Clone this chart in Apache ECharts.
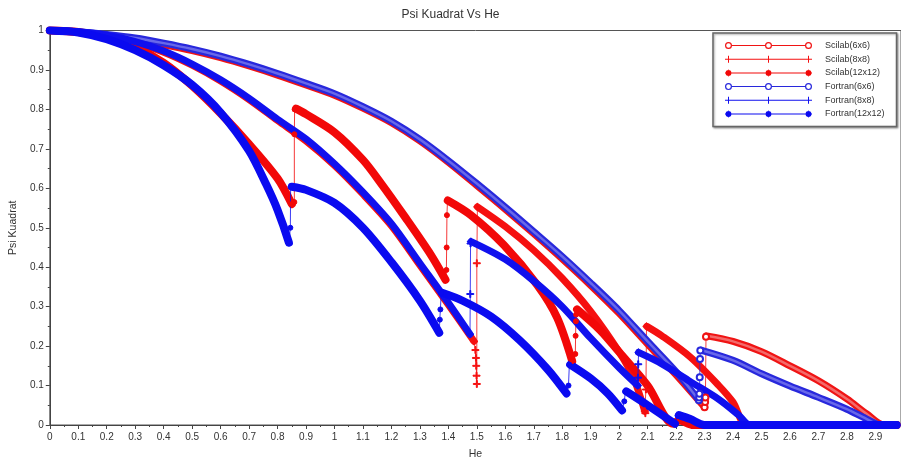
<!DOCTYPE html>
<html>
<head>
<meta charset="utf-8">
<script src="https://cdn.jsdelivr.net/npm/echarts@6/dist/echarts.min.js"></script>
<style>
html,body{margin:0;padding:0;background:#fff;}
#chart{width:901px;height:465px;}
</style>
</head>
<body>
<div id="chart"></div>
<script>
// ---------------- DATA ----------------
const xTicks = [0,0.1,0.2,0.3,0.4,0.5,0.6,0.7,0.8,0.9,1,1.1,1.2,1.3,1.4,1.5,1.6,1.7,1.8,1.9,2,2.1,2.2,2.3,2.4,2.5,2.6,2.7,2.8,2.9];
const yTicks = [0,0.1,0.2,0.3,0.4,0.5,0.6,0.7,0.8,0.9,1];
const seriesNames = ['Scilab(6x6)','Scilab(8x8)','Scilab(12x12)','Fortran(6x6)','Fortran(8x8)','Fortran(12x12)'];

// Scilab 6x6
const S6_b1 = [[0,1],[0.1,0.995],[0.2,0.987],[0.3,0.977],[0.4,0.964],[0.5,0.949],[0.6,0.931],[0.7,0.91],[0.8,0.887],[0.9,0.862],[1.0,0.836],[1.1,0.803],[1.2,0.766],[1.3,0.72],[1.4,0.666],[1.5,0.607],[1.6,0.547],[1.7,0.485],[1.8,0.421],[1.9,0.354],[2.0,0.283],[2.1,0.205],[2.2,0.127],[2.3,0.045]];
const S6_j1 = [[2.3,0.045],[2.302,0.058],[2.303,0.07],[2.305,0.224]];
const S6_b2 = [[2.307,0.226],[2.4,0.212],[2.5,0.186],[2.6,0.15],[2.7,0.112],[2.8,0.066],[2.87,0.028],[2.93,0],[2.975,0]];

// Scilab 8x8
const S8_b1 = [[0,1],[0.1,0.996],[0.2,0.986],[0.3,0.969],[0.4,0.945],[0.5,0.912],[0.6,0.872],[0.7,0.825],[0.8,0.772],[0.9,0.72],[1.0,0.658],[1.1,0.585],[1.2,0.505],[1.3,0.405],[1.4,0.305],[1.49,0.212]];
const S8_j1 = [[1.49,0.212],[1.495,0.19],[1.497,0.17],[1.498,0.15],[1.499,0.125],[1.5,0.104],[1.5,0.41],[1.502,0.553]];
const S8_b2 = [[1.502,0.553],[1.6,0.503],[1.7,0.443],[1.8,0.372],[1.9,0.288],[2.0,0.185],[2.05,0.12],[2.09,0.035]];
const S8_j2 = [[2.09,0.035],[2.092,0.03],[2.094,0.09],[2.096,0.25]];
const S8_b3 = [[2.097,0.25],[2.15,0.226],[2.25,0.172],[2.35,0.1],[2.4,0.058],[2.45,0],[2.975,0]];

// Scilab 12x12
const S12_b1 = [[0,1],[0.1,0.996],[0.2,0.982],[0.3,0.958],[0.4,0.918],[0.5,0.86],[0.6,0.79],[0.7,0.712],[0.8,0.625],[0.85,0.56]];
const S12_j1 = [[0.85,0.56],[0.859,0.565],[0.859,0.737],[0.86,0.8]];
const S12_b2 = [[0.865,0.802],[0.9,0.788],[1.0,0.742],[1.1,0.672],[1.164,0.612],[1.25,0.525],[1.338,0.432],[1.39,0.368]];
const S12_j2 = [[1.39,0.368],[1.393,0.393],[1.394,0.45],[1.395,0.532],[1.397,0.569]];
const S12_b3 = [[1.398,0.569],[1.479,0.532],[1.595,0.456],[1.712,0.355],[1.782,0.272],[1.835,0.162]];
const S12_j3 = [[1.835,0.162],[1.846,0.18],[1.847,0.226],[1.848,0.263],[1.849,0.28],[1.85,0.293]];
const S12_b4 = [[1.852,0.293],[1.934,0.24],[2.0,0.185],[2.1,0.1],[2.19,0.003],[2.21,0.012],[2.26,0],[2.975,0]];

// Fortran 6x6
const F6_b1 = [[0,1],[0.1,0.997],[0.2,0.99],[0.3,0.981],[0.4,0.968],[0.5,0.953],[0.6,0.935],[0.7,0.914],[0.8,0.891],[0.9,0.866],[1.0,0.84],[1.1,0.807],[1.2,0.77],[1.3,0.724],[1.4,0.67],[1.5,0.612],[1.6,0.552],[1.7,0.49],[1.8,0.427],[1.9,0.36],[2.0,0.29],[2.1,0.212],[2.2,0.135],[2.28,0.063]];
const F6_j1 = [[2.28,0.063],[2.281,0.07],[2.282,0.079],[2.283,0.121],[2.284,0.167],[2.285,0.189]];
const F6_b2 = [[2.287,0.19],[2.4,0.164],[2.5,0.13],[2.6,0.099],[2.7,0.07],[2.8,0.04],[2.87,0.015],[2.92,0],[2.975,0]];

// Fortran 8x8
const F8_b1 = [[0,1],[0.1,0.997],[0.2,0.988],[0.3,0.972],[0.4,0.948],[0.5,0.915],[0.6,0.875],[0.7,0.828],[0.8,0.775],[0.9,0.725],[1.0,0.662],[1.1,0.59],[1.2,0.51],[1.3,0.41],[1.4,0.31],[1.476,0.23]];
const F8_j1 = [[1.476,0.23],[1.477,0.332],[1.478,0.46],[1.479,0.465]];
const F8_b2 = [[1.48,0.465],[1.6,0.42],[1.7,0.365],[1.8,0.3],[1.9,0.22],[2.0,0.145],[2.065,0.1]];
const F8_j2 = [[2.065,0.1],[2.066,0.12],[2.067,0.154],[2.068,0.184]];
const F8_b3 = [[2.068,0.184],[2.15,0.155],[2.25,0.11],[2.35,0.065],[2.42,0.025],[2.46,0],[2.975,0]];

// Fortran 12x12
const F12_b1 = [[0,1],[0.1,0.995],[0.2,0.978],[0.3,0.95],[0.4,0.912],[0.5,0.862],[0.6,0.792],[0.7,0.695],[0.76,0.61],[0.8,0.545],[0.84,0.462]];
const F12_j1 = [[0.84,0.462],[0.845,0.5],[0.846,0.604]];
const F12_b2 = [[0.85,0.604],[0.9,0.596],[1.0,0.563],[1.1,0.5],[1.2,0.413],[1.3,0.315],[1.368,0.234]];
const F12_j2 = [[1.368,0.234],[1.37,0.267],[1.372,0.293],[1.375,0.335]];
const F12_b3 = [[1.378,0.335],[1.45,0.315],[1.55,0.275],[1.65,0.215],[1.75,0.14],[1.815,0.08]];
const F12_j3 = [[1.815,0.08],[1.822,0.1],[1.825,0.153]];
const F12_b4 = [[1.828,0.153],[1.9,0.118],[1.96,0.08],[2.01,0.037]];
const F12_j4 = [[2.01,0.037],[2.018,0.06],[2.022,0.085]];
const F12_b5 = [[2.025,0.085],[2.1,0.05],[2.196,0.003]];
const F12_j5 = [[2.196,0.003],[2.205,0.024]];
const F12_b6 = [[2.21,0.025],[2.25,0.015],[2.3,0],[2.975,0]];

// ---------------- CHART ----------------
const FONT = 'Liberation Sans, Arial, sans-serif';
const PLUS = 'path://M4.3,0H5.7V4.3H10V5.7H5.7V10H4.3V5.7H0V4.3H4.3Z';

// legend icons: a line with three markers, drawn in an 87 x 7 box
const LW = 87, LH = 7, LC = [3.5, 43.5, 83.5];
function circ(cx, r, sweep){
  const y = LH/2;
  return `M${cx-r},${y}A${r},${r} 0 1,${sweep} ${cx+r},${y}A${r},${r} 0 1,${sweep} ${cx-r},${y}Z`;
}
function ringIcon(){
  let p = '';
  LC.forEach(c=>{ p += circ(c,3.5,1) + circ(c,2.3,0); });
  p += `M7,3H40V4H7ZM47,3H80V4H47Z`;
  return 'path://' + p;
}
function plusIcon(){
  let p = `M0,3H${LW}V4H0Z`;
  LC.forEach(c=>{ p += `M${c-0.5},0H${c+0.5}V${LH}H${c-0.5}Z`; });
  return 'path://' + p;
}
function dotIcon(){
  let p = `M0,3H${LW}V4H0Z`;
  LC.forEach(c=>{ p += circ(c,2.9,1) + `M${c-0.35},0H${c+0.35}V${LH}H${c-0.35}Z`; });
  return 'path://' + p;
}
const ICONS = [ringIcon(), plusIcon(), dotIcon(), ringIcon(), plusIcon(), dotIcon()];

const groups = [
  {name:seriesNames[0], color:'#f01414', symbol:'emptyCircle', size:6, width:7, inner:'#f36a6a', branches:[S6_b1,S6_b2], jumps:[S6_j1]},
  {name:seriesNames[1], color:'#f51010', symbol:PLUS, size:7, width:7, inner:null, branches:[S8_b1,S8_b2,S8_b3], jumps:[S8_j1,S8_j2]},
  {name:seriesNames[2], color:'#f20808', symbol:'circle', size:5, width:8, inner:null, branches:[S12_b1,S12_b2,S12_b3,S12_b4], jumps:[S12_j1,S12_j2,S12_j3]},
  {name:seriesNames[3], color:'#2828dc', symbol:'emptyCircle', size:6, width:7, inner:'#6868ea', branches:[F6_b1,F6_b2], jumps:[F6_j1]},
  {name:seriesNames[4], color:'#1010ee', symbol:PLUS, size:7, width:7, inner:null, branches:[F8_b1,F8_b2,F8_b3], jumps:[F8_j1,F8_j2]},
  {name:seriesNames[5], color:'#0a0af0', symbol:'circle', size:5, width:8, inner:null, branches:[F12_b1,F12_b2,F12_b3,F12_b4,F12_b5,F12_b6], jumps:[F12_j1,F12_j2,F12_j3,F12_j4,F12_j5]}
];

function joinSegments(segs){
  const out = [];
  segs.forEach((s,i)=>{
    if(i>0) out.push([s[0][0],'-']);
    s.forEach(p=>out.push(p));
  });
  return out;
}

const series = [];
groups.forEach(g=>{
  series.push({
    name:g.name, type:'line', data:joinSegments(g.jumps),
    symbol:g.symbol, symbolSize:g.size, showSymbol:true, connectNulls:false,
    lineStyle:{color:g.color, width:1, opacity:0.8},
    itemStyle:{color:g.color, borderColor:g.color, borderWidth:1},
    clip:false, silent:true
  });
  series.push({
    name:g.name, type:'line', data:joinSegments(g.branches),
    symbol:'none', connectNulls:false, smooth:0.3,
    lineStyle:{color:g.color, width:g.width, cap:'round', join:'round'},
    itemStyle:{color:g.color},
    clip:false, silent:true
  });
  if(g.inner){
    series.push({
      name:g.name, type:'line', data:joinSegments(g.branches),
      symbol:'none', connectNulls:false, smooth:0.3,
      lineStyle:{color:g.inner, width:2.5, cap:'round', join:'round'},
      itemStyle:{color:g.color},
      clip:false, silent:true
    });
  }
});

const chart = echarts.init(document.getElementById('chart'), null, {renderer:'canvas'});
chart.setOption({
  animation:false,
  backgroundColor:'#ffffff',
  title:{
    text:'Psi Kuadrat Vs He', left:'center', top:4,
    textStyle:{fontFamily:FONT, fontSize:12, fontWeight:'normal', color:'#333'}
  },
  grid:{left:47, top:30.5, right:-2, bottom:37, show:true, borderColor:'#555', borderWidth:1, backgroundColor:'transparent'},
  legend:{
    data:seriesNames.map((n,i)=>({name:n, icon:ICONS[i]})),
    orient:'vertical', left:713, top:33,
    itemWidth:LW, itemHeight:LH, itemGap:4.7,
    padding:[8,12,8,12],
    itemStyle:{borderWidth:0},
    backgroundColor:'#fff', borderColor:'#666', borderWidth:1.5, borderRadius:0,
    shadowColor:'rgba(0,0,0,0.35)', shadowBlur:2, shadowOffsetX:1, shadowOffsetY:1,
    textStyle:{fontFamily:FONT, fontSize:9, color:'#333', padding:[0,0,0,8]},
    selectedMode:false
  },
  xAxis:{
    type:'value', min:xTicks[0], max:2.99, interval:0.1,
    name:'He', nameLocation:'middle', nameGap:24,
    nameTextStyle:{fontFamily:FONT, fontSize:10.5, color:'#333'},
    axisLine:{show:true, onZero:false, lineStyle:{color:'#444', width:1}},
    axisTick:{show:true, inside:false, length:4, lineStyle:{color:'#444'}},
    minorTick:{show:true, splitNumber:2, length:2, lineStyle:{color:'#444'}},
    splitLine:{show:false},
    axisLabel:{fontFamily:FONT, fontSize:10, color:'#333', margin:7, showMaxLabel:false,
      formatter:v=>{ const t = xTicks.find(k=>Math.abs(k-v)<1e-6); return t===undefined?'':String(t); }}
  },
  yAxis:{
    type:'value', min:yTicks[0], max:yTicks[yTicks.length-1], interval:0.1,
    name:'Psi Kuadrat', nameLocation:'middle', nameGap:26,
    nameTextStyle:{fontFamily:FONT, fontSize:10.5, color:'#333'},
    axisLine:{show:true, onZero:false, lineStyle:{color:'#444', width:1}},
    axisTick:{show:true, inside:false, length:4, lineStyle:{color:'#444'}},
    minorTick:{show:true, splitNumber:2, length:2, lineStyle:{color:'#444'}},
    splitLine:{show:false},
    axisLabel:{fontFamily:FONT, fontSize:10, color:'#333', margin:6,
      formatter:v=>{ const t = yTicks.find(k=>Math.abs(k-v)<1e-6); return t===undefined?'':String(t); }}
  },
  series:series
});
</script>
</body>
</html>
